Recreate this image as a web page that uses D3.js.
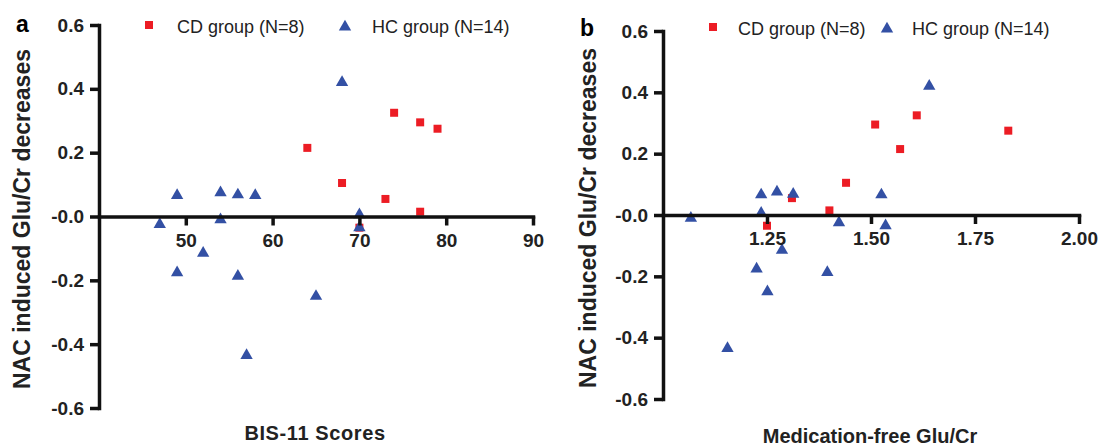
<!DOCTYPE html>
<html>
<head>
<meta charset="utf-8">
<script src="https://cdn.jsdelivr.net/npm/d3@7"></script>
<style>
  body { margin: 0; background: #fff; }
  svg { font-family: "Liberation Sans", Arial, sans-serif; }
</style>
</head>
<body>
<svg width="1100" height="446"></svg>
<script>
// series labels
var groups = ["CD group (N=8)", "HC group (N=14)"];
var colors = ["#ec1c24", "#3350a4"];

// CD group: NAC induced Glu/Cr decrease, BIS-11 score, medication-free Glu/Cr
var cdDecrease = [0.325, 0.295, 0.275, 0.215, 0.105, 0.055, 0.015, -0.035];
var cdBis      = [74, 77, 79, 64, 68, 73, 77, 70];
var cdGlu      = [1.61, 1.51, 1.83, 1.57, 1.44, 1.31, 1.40, 1.25];

// HC group
var hcDecrease = [0.42, 0.075, 0.068, 0.066, 0.066, 0.006, -0.01, -0.025, -0.035, -0.115, -0.176, -0.187, -0.25, -0.435];
var hcBis      = [68, 54, 56, 49, 58, 70, 54, 47, 70, 52, 49, 56, 65, 57];
var hcGlu      = [1.64, 1.274, 1.313, 1.236, 1.525, 1.236, 1.067, 1.423, 1.535, 1.286, 1.225, 1.395, 1.251, 1.155];

// axis ticks
var yTicks  = [0.6, 0.4, 0.2, 0, -0.2, -0.4, -0.6];
var bisTicks = [50, 60, 70, 80, 90];
var gluTicks = [1.25, 1.5, 1.75, 2.0];

var svg = d3.select("svg");

function fmtY(d) {
    if (d === 0) return "-0.0";
    return (d < 0 ? "-" : "") + Math.abs(d).toFixed(1);
}

var square = d3.symbol().type(d3.symbolSquare).size(64);
var triangle = d3.symbol().type(d3.symbolTriangle).size(66);

function styleAxis(ax) {
    ax.selectAll("path, line").attr("stroke", "#111").attr("stroke-width", 3.5);
    ax.select(".domain").attr("stroke-linecap", "square");
    ax.selectAll("text")
        .attr("font-size", null)
        .style("font-size", "19px")
        .style("font-weight", "bold")
        .attr("fill", "#222");
}

function panel(p) {
    var x = d3.scaleLinear().domain(p.xDomain).range(p.xRange);
    var y = d3.scaleLinear().domain([-0.6, 0.6]).range(p.yRange);
    var g = svg.append("g");

    // points
    g.selectAll(".cd").data(cdDecrease).enter().append("path")
        .attr("d", square)
        .attr("fill", colors[0])
        .attr("transform", function (d, i) { return "translate(" + x(p.cdX[i]) + "," + y(d) + ")"; });

    g.selectAll(".hc").data(hcDecrease).enter().append("path")
        .attr("d", triangle)
        .attr("fill", colors[1])
        .attr("transform", function (d, i) { return "translate(" + x(p.hcX[i]) + "," + y(d) + ")"; });

    // y axis
    g.append("g")
        .attr("transform", "translate(" + p.xRange[0] + ",0)")
        .call(d3.axisLeft(y).tickValues(yTicks).tickFormat(fmtY).tickSize(9).tickSizeOuter(0).tickPadding(6))
        .call(styleAxis);

    // x axis sits on the zero line
    g.append("g")
        .attr("transform", "translate(0," + y(0) + ")")
        .call(d3.axisBottom(x).tickValues(p.xTicks).tickFormat(p.xFormat).tickSize(9).tickSizeOuter(0).tickPadding(8))
        .call(styleAxis);

    // panel letter
    g.append("text")
        .attr("x", p.letterX).attr("y", p.letterY)
        .style("font-size", "23px").style("font-weight", "bold")
        .text(p.letter);

    // axis titles
    g.append("text")
        .attr("transform", "translate(" + p.yTitleX + "," + p.yTitleY + ")rotate(-90)")
        .attr("text-anchor", "middle")
        .attr("dy", "0.35em")
        .style("font-size", "23px").style("font-weight", "bold").attr("fill", "#222")
        .text("NAC induced Glu/Cr decreases");

    g.append("text")
        .attr("x", p.xTitleX).attr("y", p.xTitleY)
        .attr("text-anchor", "middle")
        .style("font-size", "20px").style("font-weight", "bold").attr("fill", "#222")
        .style("letter-spacing", p.xTitleSpacing)
        .text(p.xTitle);

    // legend
    var lg = g.append("g");
    lg.append("path").attr("d", square).attr("fill", colors[0])
        .attr("transform", "translate(" + p.legend[0] + "," + p.legendY + ")");
    lg.append("text").attr("x", p.legend[1]).attr("y", p.legendY + 8)
        .style("font-size", "18px").attr("fill", "#222").text(groups[0]);
    lg.append("path").attr("d", triangle).attr("fill", colors[1])
        .attr("transform", "translate(" + p.legend[2] + "," + (p.legendY + 2) + ")");
    lg.append("text").attr("x", p.legend[3]).attr("y", p.legendY + 8)
        .style("font-size", "18px").attr("fill", "#222").text(groups[1]);
}

panel({
    letter: "a", letterX: 16, letterY: 32,
    xDomain: [40, 90], xRange: [99, 533], yRange: [408, 25],
    xTicks: bisTicks, xFormat: d3.format("d"),
    cdX: cdBis, hcX: hcBis,
    yTitleX: 22, yTitleY: 219,
    xTitle: "BIS-11 Scores", xTitleX: 315, xTitleY: 440, xTitleSpacing: "0.6px",
    legend: [149, 177, 345, 372], legendY: 25
});

panel({
    letter: "b", letterX: 580, letterY: 36,
    xDomain: [1, 2], xRange: [663, 1079], yRange: [399, 31],
    xTicks: gluTicks, xFormat: function (d) { return d.toFixed(2); },
    cdX: cdGlu, hcX: hcGlu,
    yTitleX: 588, yTitleY: 218,
    xTitle: "Medication-free Glu/Cr", xTitleX: 870, xTitleY: 443, xTitleSpacing: "0px",
    legend: [713, 738, 887, 912], legendY: 27
});
</script>
</body>
</html>
